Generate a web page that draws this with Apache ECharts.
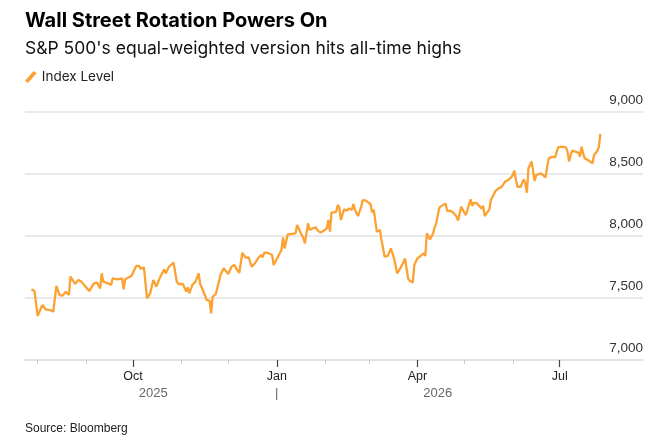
<!DOCTYPE html>
<html>
<head>
<meta charset="utf-8">
<script src="https://cdn.jsdelivr.net/npm/echarts@6/dist/echarts.min.js"></script>
<style>
  html, body { margin: 0; padding: 0; background: #fff; }
  #chart { width: 667px; height: 445px; }
</style>
</head>
<body>
<div id="chart"></div>
<script>
// index level
var dates = [
  '2025-07-28','2025-07-30','2025-08-01','2025-08-04','2025-08-06','2025-08-07','2025-08-09','2025-08-11',
  '2025-08-13','2025-08-15','2025-08-17','2025-08-18','2025-08-19','2025-08-21','2025-08-22','2025-08-24',
  '2025-08-25','2025-08-27','2025-08-29','2025-09-01','2025-09-03','2025-09-06','2025-09-08','2025-09-09',
  '2025-09-10','2025-09-11','2025-09-12','2025-09-15','2025-09-17','2025-09-18','2025-09-21','2025-09-24',
  '2025-09-25','2025-09-26','2025-09-30','2025-10-01','2025-10-03','2025-10-05','2025-10-06','2025-10-08',
  '2025-10-10','2025-10-12','2025-10-14','2025-10-15','2025-10-16','2025-10-18','2025-10-21','2025-10-22',
  '2025-10-24','2025-10-27','2025-10-29','2025-10-30','2025-11-02','2025-11-03','2025-11-04','2025-11-05',
  '2025-11-06','2025-11-08','2025-11-10','2025-11-12','2025-11-13','2025-11-16','2025-11-17','2025-11-19',
  '2025-11-20','2025-11-21','2025-11-23','2025-11-24','2025-11-26','2025-11-28','2025-12-01','2025-12-02',
  '2025-12-03','2025-12-05','2025-12-06','2025-12-08','2025-12-10','2025-12-12','2025-12-14','2025-12-16',
  '2025-12-18','2025-12-20','2025-12-22','2025-12-23','2025-12-24','2025-12-26','2025-12-29','2025-12-30',
  '2026-01-02','2026-01-04','2026-01-05','2026-01-06','2026-01-08','2026-01-10','2026-01-13','2026-01-14',
  '2026-01-16','2026-01-18','2026-01-19','2026-01-21','2026-01-22','2026-01-24','2026-01-26','2026-01-27',
  '2026-01-29','2026-01-31','2026-02-02','2026-02-03','2026-02-04','2026-02-05','2026-02-08','2026-02-09',
  '2026-02-10','2026-02-11','2026-02-13','2026-02-15','2026-02-16','2026-02-18','2026-02-19','2026-02-20',
  '2026-02-22','2026-02-24','2026-02-25','2026-02-27','2026-03-02','2026-03-03','2026-03-04','2026-03-06',
  '2026-03-08','2026-03-09','2026-03-10','2026-03-11','2026-03-13','2026-03-15','2026-03-16','2026-03-17',
  '2026-03-18','2026-03-19','2026-03-21','2026-03-23','2026-03-24','2026-03-26','2026-03-27','2026-03-29',
  '2026-03-30','2026-04-01','2026-04-03','2026-04-05','2026-04-06','2026-04-07','2026-04-08','2026-04-09',
  '2026-04-11','2026-04-12','2026-04-13','2026-04-14','2026-04-15','2026-04-16','2026-04-19','2026-04-20',
  '2026-04-22','2026-04-24','2026-04-25','2026-04-26','2026-04-27','2026-04-29','2026-04-30','2026-05-02',
  '2026-05-05','2026-05-06','2026-05-07','2026-05-09','2026-05-10','2026-05-12','2026-05-13','2026-05-14',
  '2026-05-16','2026-05-17','2026-05-18','2026-05-21','2026-05-23','2026-05-25','2026-05-26','2026-05-27',
  '2026-05-29','2026-05-31','2026-06-01','2026-06-02','2026-06-03','2026-06-04','2026-06-06','2026-06-07',
  '2026-06-08','2026-06-09','2026-06-10','2026-06-11','2026-06-12','2026-06-13','2026-06-14','2026-06-15',
  '2026-06-16','2026-06-17','2026-06-19','2026-06-20','2026-06-22','2026-06-23','2026-06-24','2026-06-26',
  '2026-06-28','2026-06-29','2026-06-30','2026-07-02','2026-07-05','2026-07-06','2026-07-07','2026-07-08',
  '2026-07-09','2026-07-11','2026-07-13','2026-07-14','2026-07-15','2026-07-16','2026-07-17','2026-07-19',
  '2026-07-20','2026-07-22','2026-07-23','2026-07-25','2026-07-26','2026-07-27'
];
var indexLevel = [
  7570,7556,7355,7444,7409,7416,7403,7390,
  7597,7524,7519,7524,7551,7524,7672,7632,
  7613,7645,7632,7586,7556,7618,7624,7611,
  7578,7699,7632,7618,7605,7659,7651,7659,
  7570,7651,7677,7704,7758,7758,7735,7747,
  7497,7538,7645,7653,7591,7659,7731,7699,
  7752,7785,7632,7613,7613,7597,7551,7586,
  7538,7605,7632,7699,7613,7524,7484,7478,
  7376,7511,7532,7543,7685,7739,7694,7704,
  7752,7766,7739,7704,7865,7825,7828,7752,
  7780,7820,7847,7828,7865,7865,7847,7766,
  7839,7887,7989,7900,8013,8016,8021,8089,
  8035,7981,7941,8102,8048,8062,8070,8048,
  8027,8043,8062,8129,8035,8188,8194,8250,
  8231,8129,8215,8204,8223,8210,8258,8210,
  8161,8237,8290,8285,8256,8190,8212,8035,
  8048,7968,7954,7833,7839,7900,7914,7820,
  7806,7699,7739,7785,7820,7659,7640,7626,
  7766,7820,7839,7860,7839,8021,8035,7973,
  8021,8070,8102,8116,8231,8242,8263,8202,
  8204,8188,8177,8156,8124,8237,8210,8169,
  8296,8242,8269,8263,8258,8223,8242,8161,
  8196,8215,8290,8365,8384,8397,8403,8438,
  8452,8473,8492,8527,8452,8397,8397,8392,
  8457,8425,8349,8546,8573,8600,8586,8444,
  8492,8500,8505,8500,8473,8559,8626,8640,
  8634,8640,8715,8720,8715,8680,8600,8653,
  8688,8680,8672,8640,8720,8667,8626,8613,
  8618,8586,8653,8685,8715,8823
];

var monthTicks = [
  '2025-08-01','2025-09-01','2025-10-01','2025-11-01','2025-12-01','2026-01-01',
  '2026-02-01','2026-03-01','2026-04-01','2026-05-01','2026-06-01','2026-07-01'
];
var quarterTicks = ['2025-10-01','2026-01-01','2026-04-01','2026-07-01'];
var quarterLabels = ['Oct','Jan','Apr','Jul'];
var yearTicks = ['2025-10-14','2026-01-01','2026-04-14'];
var yearLabels = ['2025','|','2026'];
var yTicks = [7000, 7500, 8000, 8500, 9000];

var FONT = 'Liberation Sans, Arial, sans-serif';
var HEAD_FONT = 'Inter, Liberation Sans, sans-serif';

function ts(d) {
  var p = d.split(/[- :]/).map(Number);
  return Date.UTC(p[0], p[1] - 1, p[2], p[3] || 0, p[4] || 0);
}
function tsList(list) { return list.map(ts); }

var xMin = ts('2025-07-23 22:00');
var xMax = ts('2026-08-23 07:00');

var myChart = echarts.init(document.getElementById('chart'), null, { renderer: 'canvas' });

function baseX(extra) {
  return Object.assign({
    type: 'value',
    min: xMin,
    max: xMax,
    position: 'bottom',
    gridIndex: 0,
    splitLine: { show: false },
    axisPointer: { show: false }
  }, extra);
}

var quarterTs = tsList(quarterTicks);
var yearTs = tsList(yearTicks);

var option = {
  animation: false,
  backgroundColor: '#fff',
  title: [
    {
      text: 'Wall Street Rotation Powers On',
      left: 20, top: 6,
      textStyle: { fontFamily: HEAD_FONT, fontSize: 20, fontWeight: 'bold', color: '#000' }
    },
    {
      text: "S&P 500's equal-weighted version hits all-time highs",
      left: 20, top: 35,
      textStyle: { fontFamily: HEAD_FONT, fontSize: 17.5, fontWeight: 'normal', color: '#111' }
    },
    {
      text: 'Source: Bloomberg',
      left: 20, top: 418,
      textStyle: { fontFamily: FONT, fontSize: 12, fontWeight: 'normal', color: '#222' }
    }
  ],
  legend: {
    left: 20, top: 65,
    itemWidth: 12, itemHeight: 12, itemGap: 10,
    icon: 'path://M0,9.3L8.2,0L11,2.1L2.8,11.4Z',
    textStyle: { fontFamily: HEAD_FONT, fontSize: 13.5, color: '#222' },
    data: ['Index Level']
  },
  grid: { left: 25, right: 24, top: 112, bottom: 85, containLabel: false },
  xAxis: [
    baseX({
      axisLine: { show: true, lineStyle: { color: '#e0e0e0', width: 1.5 } },
      axisTick: { show: true, length: 4, lineStyle: { color: '#c8c8c8', width: 1 }, customValues: tsList(monthTicks) },
      axisLabel: { show: false }
    }),
    baseX({
      axisLine: { show: false },
      axisTick: { show: true, length: 7, lineStyle: { color: '#444', width: 1.2 }, customValues: quarterTs },
      axisLabel: {
        show: true, margin: 10, customValues: quarterTs,
        fontFamily: FONT, fontSize: 12.5, color: '#222',
        formatter: function (v) { return quarterLabels[quarterTs.indexOf(v)]; }
      }
    }),
    baseX({
      axisLine: { show: false },
      axisTick: { show: false },
      axisLabel: {
        show: true, margin: 27, customValues: yearTs,
        fontFamily: FONT, fontSize: 13, color: '#666',
        formatter: function (v) { return yearLabels[yearTs.indexOf(v)]; }
      }
    })
  ],
  yAxis: {
    type: 'value',
    position: 'right',
    min: yTicks[0],
    max: yTicks[yTicks.length - 1],
    interval: 500,
    axisLine: { show: false },
    axisTick: { show: false },
    splitLine: { show: true, lineStyle: { color: '#e2e2e2', width: 1.5 } },
    axisLabel: {
      inside: true, margin: 0,
      verticalAlign: 'bottom',
      padding: [0, 0, 5, 0],
      fontFamily: FONT, fontSize: 13.5, color: '#333',
      formatter: function (v) { return v.toLocaleString('en-US'); }
    }
  },
  series: [
    {
      name: 'Index Level',
      type: 'line',
      xAxisIndex: 0,
      showSymbol: false,
      symbol: 'none',
      lineStyle: { color: '#fba232', width: 2.3 },
      itemStyle: { color: '#fba232' },
      data: dates.map(function (d, i) { return [ts(d), indexLevel[i]]; })
    }
  ]
};

myChart.setOption(option);
</script>
</body>
</html>
